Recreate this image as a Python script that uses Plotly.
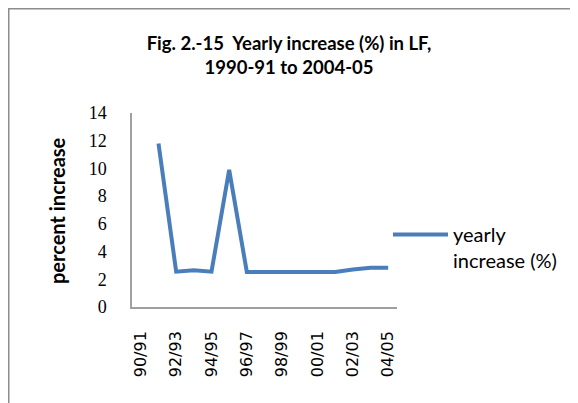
import plotly.graph_objects as go

categories = ["90/91", "91/92", "92/93", "93/94", "94/95", "95/96", "96/97", "97/98",
              "98/99", "99/00", "00/01", "01/02", "02/03", "03/04", "04/05"]
yearly_increase = [None, 11.8, 2.55, 2.65, 2.55, 9.9, 2.53, 2.53,
                   2.53, 2.53, 2.53, 2.53, 2.7, 2.84, 2.84]
tick_labels = categories[::2]
y_ticks = [0, 2, 4, 6, 8, 10, 12, 14]

# the page body has an 8px margin, so the figure is drawn 8px in from the corner
OFF = 8
W, H = 578 - OFF, 403 - OFF
L, T = 132 - OFF, 113 - OFF
R, B = W - (397 - OFF), H - (307 - OFF)
pw, ph = W - L - R, H - T - B

def px_x(px):
    return (px - OFF - L) / pw

def px_y(py):
    return (H - B - (py - OFF)) / ph

fig = go.Figure()
fig.add_trace(go.Scatter(
    x=categories, y=yearly_increase, mode="lines",
    name="yearly<br>increase (%)",
    line=dict(color="#4A7EBB", width=4),
    connectgaps=False,
))

border = "#8C8C8C"
fig.update_layout(
    width=W, height=H,
    margin=dict(l=L, r=R, t=T, b=B, autoexpand=False),
    paper_bgcolor="white", plot_bgcolor="white",
    title=dict(
        text="Fig. 2.-15  Yearly increase (%) in LF,<br>1990-91 to 2004-05",
        font=dict(family="Lato", size=18.5, color="black", weight="bold"),
        x=(289 - OFF) / W, xanchor="center", y=1 - 42 / H, yanchor="top",
        xref="container", yref="container",
    ),
    xaxis=dict(
        type="category", categoryorder="array", categoryarray=categories,
        range=[-0.5, len(categories) - 0.5],
        tickmode="array", tickvals=tick_labels, ticktext=tick_labels,
        tickangle=-90, tickfont=dict(family="DejaVu Sans", size=16, color="black"),
        showline=True, linecolor="#A0A0A0", linewidth=1.5,
        showgrid=False, zeroline=False, ticks="", ticklabelstandoff=16,
        fixedrange=True,
    ),
    yaxis=dict(
        range=[0, 14], tickmode="array", tickvals=y_ticks,
        tickfont=dict(family="Liberation Serif", size=18, color="black"),
        showline=True, linecolor="#A0A0A0", linewidth=1.5,
        showgrid=False, zeroline=False, ticks="", ticklabelstandoff=20,
        fixedrange=True,
    ),
    showlegend=True,
    legend=dict(
        x=px_x(388), xanchor="left", y=px_y(215), yanchor="top",
        font=dict(family="Lato", size=20, color="black"),
        valign="top", bgcolor="rgba(0,0,0,0)", borderwidth=0,
        itemwidth=55,
    ),
    annotations=[dict(
        text="<b>percent increase</b>", textangle=-90,
        x=px_x(57), y=px_y(211), xref="paper", yref="paper",
        xanchor="center", yanchor="middle", showarrow=False,
        font=dict(family="Lato", size=20, color="black"),
    )],
    shapes=[
        dict(type="line", xref="paper", yref="paper",
             x0=px_x(6.5), x1=px_x(590), y0=px_y(8), y1=px_y(8),
             line=dict(color=border, width=3)),
        dict(type="line", xref="paper", yref="paper",
             x0=px_x(8), x1=px_x(8), y0=px_y(6.5), y1=px_y(420),
             line=dict(color=border, width=3)),
    ],
)

fig.write_html("out.html")
